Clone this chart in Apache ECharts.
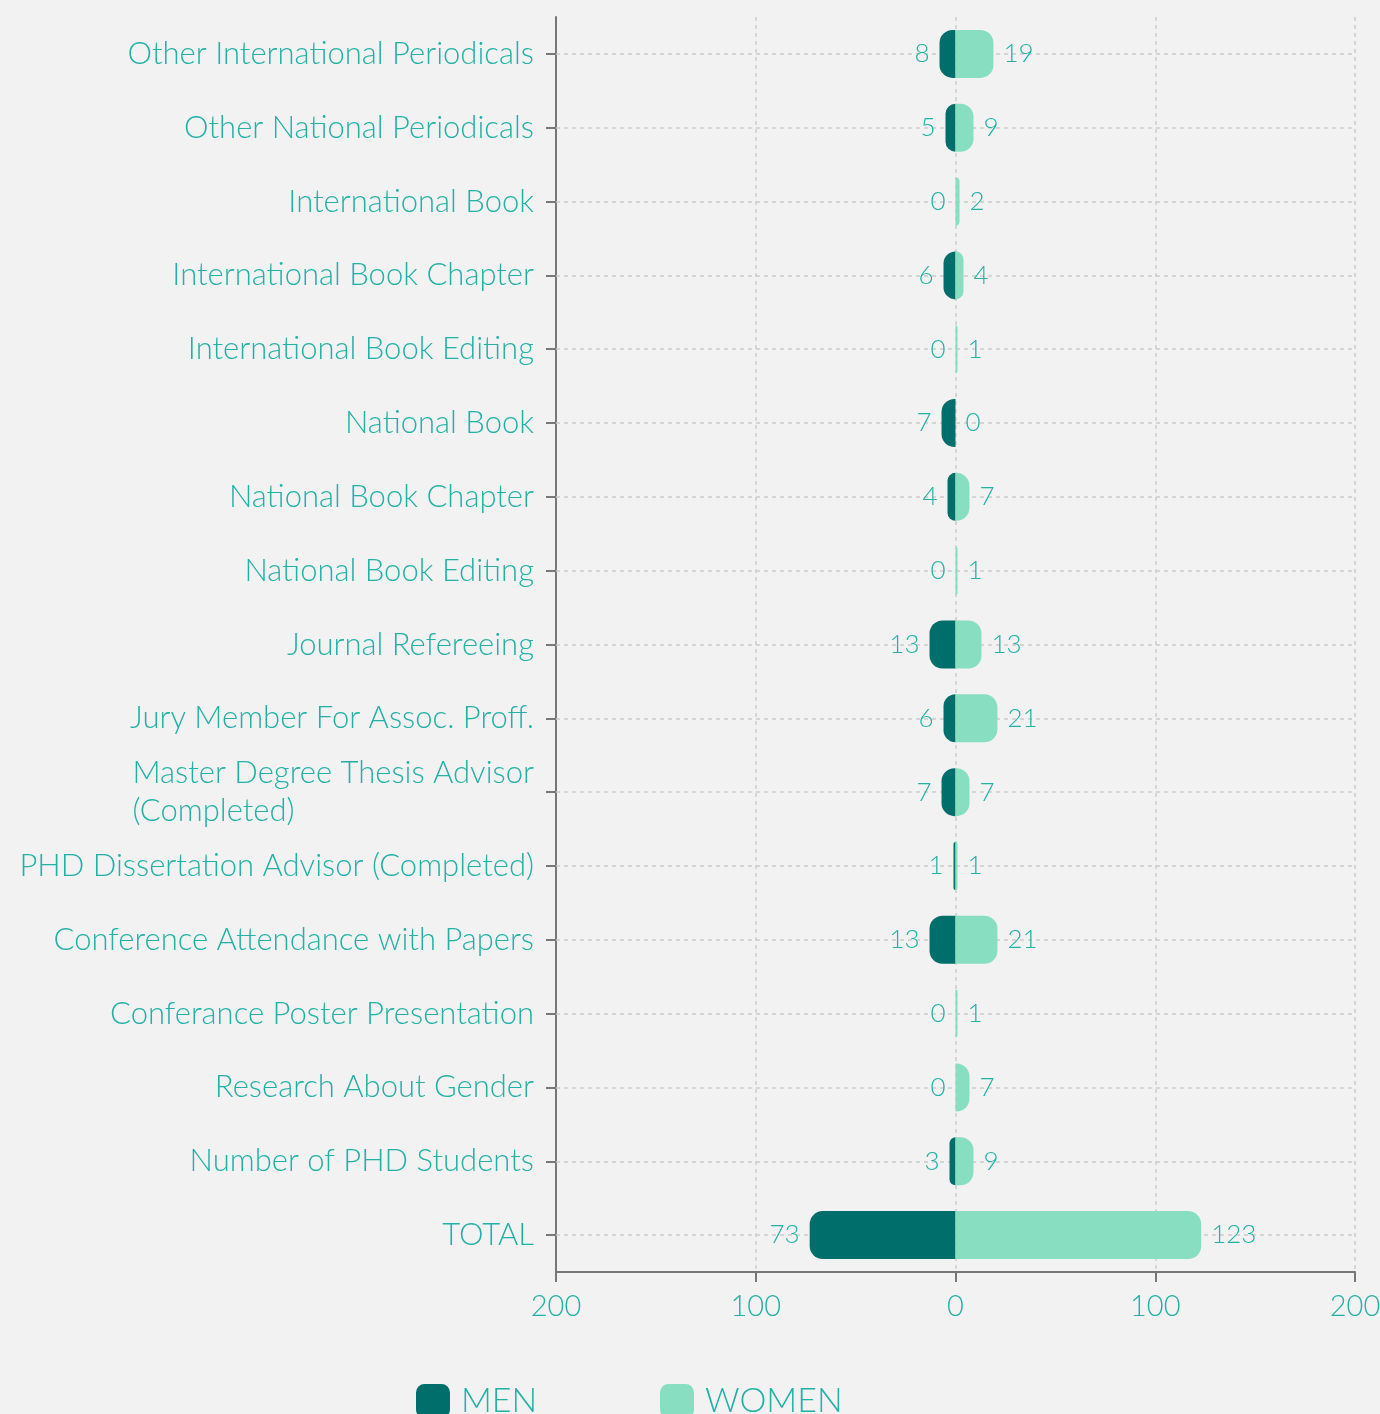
<!DOCTYPE html>
<html>
<head>
<meta charset="utf-8">
<script src="https://cdn.jsdelivr.net/npm/echarts@6/dist/echarts.min.js"></script>
<style>
  html, body { margin: 0; padding: 0; background: #f2f2f2; }
  #chart { width: 1380px; height: 1414px; }
</style>
</head>
<body>
<div id="chart"></div>
<script>
// Academic output by gender
const categories = [
  'Other International Periodicals',
  'Other National Periodicals',
  'International Book',
  'International Book Chapter',
  'International Book Editing',
  'National Book',
  'National Book Chapter',
  'National Book Editing',
  'Journal Refereeing',
  'Jury Member For Assoc. Proff.',
  'Master Degree Thesis Advisor\n(Completed)',
  'PHD Dissertation Advisor (Completed)',
  'Conference Attendance with Papers',
  'Conferance Poster Presentation',
  'Research About Gender',
  'Number of PHD Students',
  'TOTAL'
];
const men   = [8, 5, 0, 6, 0, 7, 4, 0, 13, 6, 7, 1, 13, 0, 0, 3, 73];
const women = [19, 9, 2, 4, 1, 0, 7, 1, 13, 21, 7, 1, 21, 1, 7, 9, 123];

const TEAL_TEXT = '#22b1a6';
const MEN_COLOR = '#006e6b';
const WOMEN_COLOR = '#88dec0';
const FONT = 'Lato';
const GRID_LINE = { color: '#cccccc', type: [4, 4], width: 1.5 };

const chart = echarts.init(document.getElementById('chart'));

const legendText = { color: TEAL_TEXT, fontSize: 34, fontFamily: FONT, fontWeight: 300, padding: [0, 0, 0, 6] };

chart.setOption({
  backgroundColor: '#f2f2f2',
  animation: false,
  textStyle: { fontFamily: FONT, fontWeight: 300 },
  grid: { left: 556, right: 25, top: 17, bottom: 142, containLabel: false, outerBoundsMode: 'none' },
  legend: [
    {
      data: ['MEN'], left: 416, top: 1384, padding: 0,
      icon: 'roundRect', itemWidth: 34, itemHeight: 34, itemGap: 10,
      textStyle: legendText
    },
    {
      data: ['WOMEN'], left: 660, top: 1384, padding: 0,
      icon: 'roundRect', itemWidth: 34, itemHeight: 34, itemGap: 10,
      textStyle: legendText
    }
  ],
  xAxis: {
    type: 'value', min: -200, max: 200, interval: 100,
    axisLine: { show: true, onZero: false, lineStyle: { color: '#777', width: 2 } },
    axisTick: { show: true, length: 10, lineStyle: { color: '#777', width: 2 } },
    axisLabel: {
      color: TEAL_TEXT, fontSize: 29, margin: 20, fontFamily: FONT, fontWeight: 300,
      formatter: v => String(Math.abs(v))
    },
    splitLine: { show: true, lineStyle: GRID_LINE }
  },
  yAxis: {
    type: 'category', data: categories, inverse: true,
    axisLine: { show: true, onZero: false, lineStyle: { color: '#777', width: 2 } },
    axisTick: { show: true, alignWithLabel: true, length: 10, lineStyle: { color: '#777', width: 2 } },
    axisLabel: {
      margin: 22, color: TEAL_TEXT, fontSize: 31, fontFamily: FONT, fontWeight: 300,
      formatter: v => v.split('\n').map(s => '{l|' + s + '}').join('\n'),
      rich: { l: { align: 'left', color: TEAL_TEXT, fontSize: 31, lineHeight: 38, fontFamily: FONT, fontWeight: 300 } }
    },
    splitLine: { show: false }
  },
  series: [
    {
      // horizontal guide lines through each category, kept beneath the bars
      type: 'line', data: [], z: 1, silent: true,
      markLine: {
        silent: true, symbol: 'none', z: 1,
        label: { show: false },
        lineStyle: GRID_LINE,
        data: categories.map(c => ({ yAxis: c }))
      }
    },
    {
      name: 'MEN', type: 'bar', barWidth: 48, barGap: '-100%', z: 3,
      data: men.map(v => -v),
      itemStyle: { color: MEN_COLOR, borderRadius: [13, 0, 0, 13] },
      label: {
        show: true, position: 'left', distance: 10,
        color: TEAL_TEXT, fontSize: 26, fontFamily: FONT, fontWeight: 300,
        formatter: p => String(Math.abs(p.value))
      }
    },
    {
      name: 'WOMEN', type: 'bar', barWidth: 48, barGap: '-100%', z: 3,
      data: women,
      itemStyle: { color: WOMEN_COLOR, borderRadius: [0, 13, 13, 0] },
      label: {
        show: true, position: 'right', distance: 10,
        color: TEAL_TEXT, fontSize: 26, fontFamily: FONT, fontWeight: 300,
        formatter: p => String(p.value)
      }
    }
  ]
});
</script>
</body>
</html>
